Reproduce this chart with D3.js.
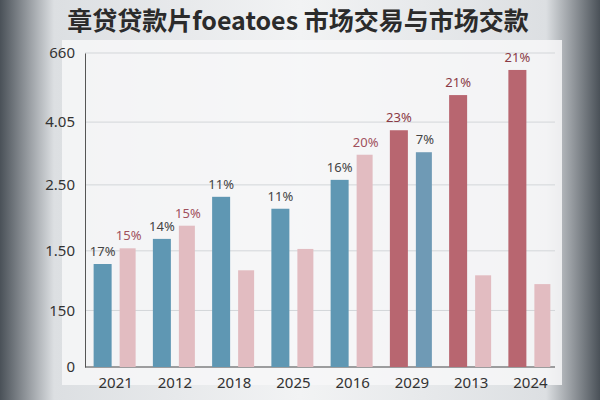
<!DOCTYPE html>
<html><head><meta charset="utf-8">
<script src="https://cdn.jsdelivr.net/npm/d3@7"></script>
<style>body{margin:0;background:#3a3f45;}svg{display:block;font-family:"Noto Sans CJK SC","Noto Sans",sans-serif;}</style>
</head><body>
<script>
// chart data
var years = ["2021","2012","2018","2025","2016","2029","2013","2024"];
var seriesA = [1.64, 2.04, 2.71, 2.52, 2.98, 3.77, 4.33, 4.73];
var seriesB = [1.89, 2.25, 1.54, 1.88, 3.38, 3.42, 1.46, 1.32];
var labelsA = ["17%","14%","11%","11%","16%","23%","21%","21%"];
var labelsB = ["15%","15%","","","20%","7%","",""];
var tickVals = [0, 0.9, 1.85, 2.9, 3.9, 5];
var tickText = ["0","150","1.50","2.50","4.05","660"];

var w = 600, h = 400;
var svg = d3.select("body").append("svg").attr("width", w).attr("height", h);

// background
var g0 = svg.append("defs").append("linearGradient").attr("id","bg");
g0.append("stop").attr("offset","0%").attr("stop-color","#4a5158");
g0.append("stop").attr("offset","9%").attr("stop-color","#dcdfe2");
g0.append("stop").attr("offset","50%").attr("stop-color","#f2f3f4");
g0.append("stop").attr("offset","91%").attr("stop-color","#dcdfe2");
g0.append("stop").attr("offset","100%").attr("stop-color","#4a5158");
svg.append("rect").attr("width",w).attr("height",h).attr("fill","url(#bg)");
svg.append("rect").attr("x",62).attr("y",40).attr("width",500).attr("height",345).attr("fill","#f7f7f8").attr("opacity",0.85);

svg.append("text").attr("x",298).attr("y",30).attr("text-anchor","middle")
  .attr("font-size",25).attr("font-weight","bold").attr("fill","#2b2b2b")
  .text("章贷贷款片foeatoes 市场交易与市场交款");

var x = d3.scaleBand().domain(years).range([86, 560]).paddingInner(0).paddingOuter(0);
var y = d3.scaleLinear().domain([0,5]).range([367, 53]);

// grid
svg.selectAll("line.grid").data(tickVals).enter().append("line")
  .attr("x1",85).attr("x2",555).attr("y1",function(d){return y(d);}).attr("y2",function(d){return y(d);})
  .attr("stroke","#d3d6d9").attr("stroke-width",1);

var yAxis = d3.axisLeft(y).tickValues(tickVals).tickFormat(function(d,i){return tickText[i];}).tickSize(0).tickPadding(10);
var ya = svg.append("g").attr("transform","translate(85,0)").call(yAxis);
ya.select(".domain").attr("stroke","#555");
ya.selectAll("text").attr("font-size",15).attr("fill","#333").attr("font-family","Noto Sans");

var xAxis = d3.axisBottom(x).tickSize(0).tickPadding(10);
var xa = svg.append("g").attr("transform","translate(0,367)").call(xAxis);
xa.select(".domain").attr("stroke","#555").attr("d","M85,0H555");
xa.selectAll("text").attr("font-size",15).attr("fill","#333").attr("font-family","Noto Sans");

var bw = 18, gap = 4;
var colA = function(i){ return i >= 5 ? "#b86670" : "#5f97b3"; };
var colB = function(i){ return i == 5 ? "#6f9ab5" : "#e2bcc1"; };
var bars = svg.append("g");
bars.selectAll("rect.a").data(seriesA).enter().append("rect")
  .attr("x",function(d,i){return x(years[i]) + x.bandwidth()/2 - bw - gap;})
  .attr("y",function(d){return y(d);}).attr("width",bw)
  .attr("height",function(d){return y(0)-y(d);})
  .attr("fill",function(d,i){return colA(i);});
bars.selectAll("rect.b").data(seriesB).enter().append("rect")
  .attr("x",function(d,i){return x(years[i]) + x.bandwidth()/2 + gap;})
  .attr("y",function(d){return y(d);}).attr("width",bw - 2)
  .attr("height",function(d){return y(0)-y(d);})
  .attr("fill",function(d,i){return colB(i);});

svg.selectAll("text.la").data(seriesA).enter().append("text")
  .attr("x",function(d,i){return x(years[i]) + x.bandwidth()/2 - bw/2 - gap;})
  .attr("y",function(d){return y(d)-8;}).attr("text-anchor","middle")
  .attr("font-size",13).attr("font-family","Noto Sans")
  .attr("fill",function(d,i){return i>=5 ? "#8a3a45" : "#444";})
  .text(function(d,i){return labelsA[i];});
svg.selectAll("text.lb").data(seriesB).enter().append("text")
  .attr("x",function(d,i){return x(years[i]) + x.bandwidth()/2 + bw/2 + gap;})
  .attr("y",function(d){return y(d)-8;}).attr("text-anchor","middle")
  .attr("font-size",13).attr("font-family","Noto Sans")
  .attr("fill",function(d,i){return i==5 ? "#444" : "#a0505c";})
  .text(function(d,i){return labelsB[i];});
</script>
</body></html>
